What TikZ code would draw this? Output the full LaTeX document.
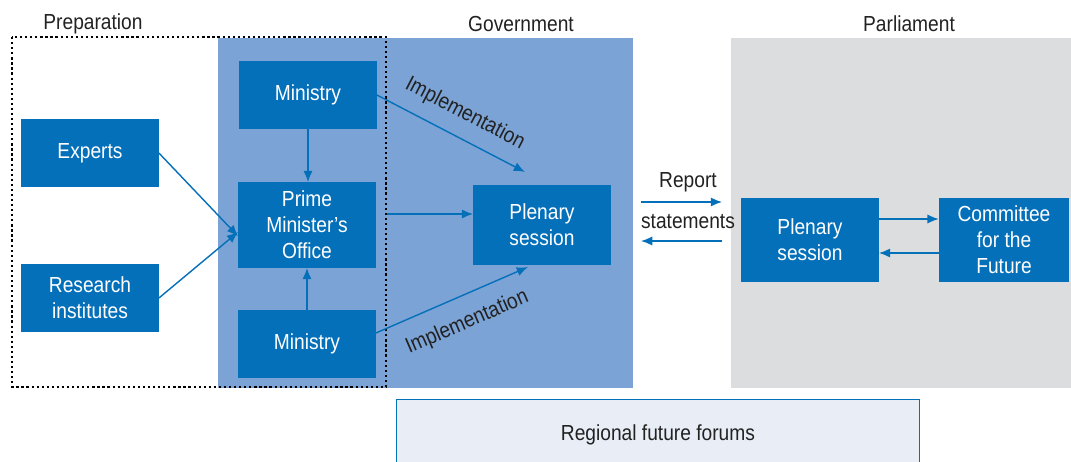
\documentclass[tikz,border=0pt]{standalone}
\usepackage{fontspec}
\setmainfont[FakeStretch=0.88]{Liberation Sans}
\usetikzlibrary{positioning,arrows.meta}
\definecolor{boxblue}{RGB}{5,112,186}
\definecolor{govblue}{RGB}{123,163,213}
\definecolor{parlgray}{RGB}{220,221,223}
\definecolor{forumfill}{RGB}{232,237,246}
\definecolor{labelgray}{RGB}{34,34,34}
\begin{document}
\begin{tikzpicture}[x=0.025cm, y=-0.025cm, font=\fontsize{15.5}{18.5}\selectfont,
item/.style={fill=boxblue, text=white, align=center, inner sep=0pt,
minimum width=3.43cm, minimum height=1.68cm},
flow/.style={-{Latex[length=8pt,width=6.5pt]}, draw=boxblue, line width=1pt},
head/.style={text=labelgray},
impl/.style={text=labelgray, sloped}]
\useasboundingbox (0,0) rectangle (1071,461);

% areas
\fill[govblue] (218,38) rectangle (633,388);
\fill[parlgray] (731,38) rectangle (1071,388);
\draw[black, line width=1.6pt, dotted] (12,37) rectangle (386,387);
\node[draw=boxblue, fill=forumfill, line width=0.6pt, text=labelgray,
minimum width=13.075cm, minimum height=1.75cm, anchor=north west] (forum)
at (396,399) {Regional future forums};

% captions
\node[head] (prep) at (93,24) {Preparation};
\node[head] (gov) at (521,24) {Government};
\node[head] (parl) at (909,24) {Parliament};

% preparation
\node[item] (experts) at (90,153) {Experts};
\node[item] (research) at (90,298) {Research\\institutes};

% government
\node[item] (min1) at (308,95) {Ministry};
\node[item, minimum height=2.13cm] (pmo) at (307,225) {Prime\\Minister's\\Office};
\node[item] (min2) at (307,344) {Ministry};
\node[item, minimum height=1.98cm] (plen1) at (542,225) {Plenary\\session};

% parliament
\node[item, minimum height=2.1cm] (plen2) at (810,240) {Plenary\\session};
\node[item, minimum height=2.1cm, minimum width=3.25cm] (comm) at (1004,240) {Committee\\for the\\Future};

% connectors
\draw[flow] (experts.east) -- ([yshift=-8pt]pmo.west);
\draw[flow] (research.east) -- (pmo.west |- 0,232);
\draw[flow] (min1.south) -- (pmo.north -| min1.south);
\draw[flow] (min2.north) -- (pmo.south);
\draw[flow, shorten <=8pt] (pmo.east |- 0,214) -- (plen1.west |- 0,214);
\coordinate (t1) at (525,172);
\coordinate (t2) at (528,267);
\draw[flow] (min1.east) -- (t1) node[impl, above=6pt, pos=0.52] {Implementation};
\draw[flow] (min2.east |- 0,333) -- (t2) node[impl, below=8pt, pos=0.53] {Implementation};

% report and statements
\coordinate (r1) at (641,202);
\coordinate (r2) at (722,202);
\coordinate (s1) at (722,241);
\coordinate (s2) at (641,241);
\draw[flow] (r1) -- (r2);
\draw[flow] (s1) -- (s2);
\node[head] (report) at (688,182) {Report};
\node[head] (statements) at (688,222) {statements};

% committee loop
\draw[flow] (plen2.east |- 0,219) -- (comm.west |- 0,219);
\draw[flow] (comm.west |- 0,253) -- (plen2.east |- 0,253);
\end{tikzpicture}
\end{document}
